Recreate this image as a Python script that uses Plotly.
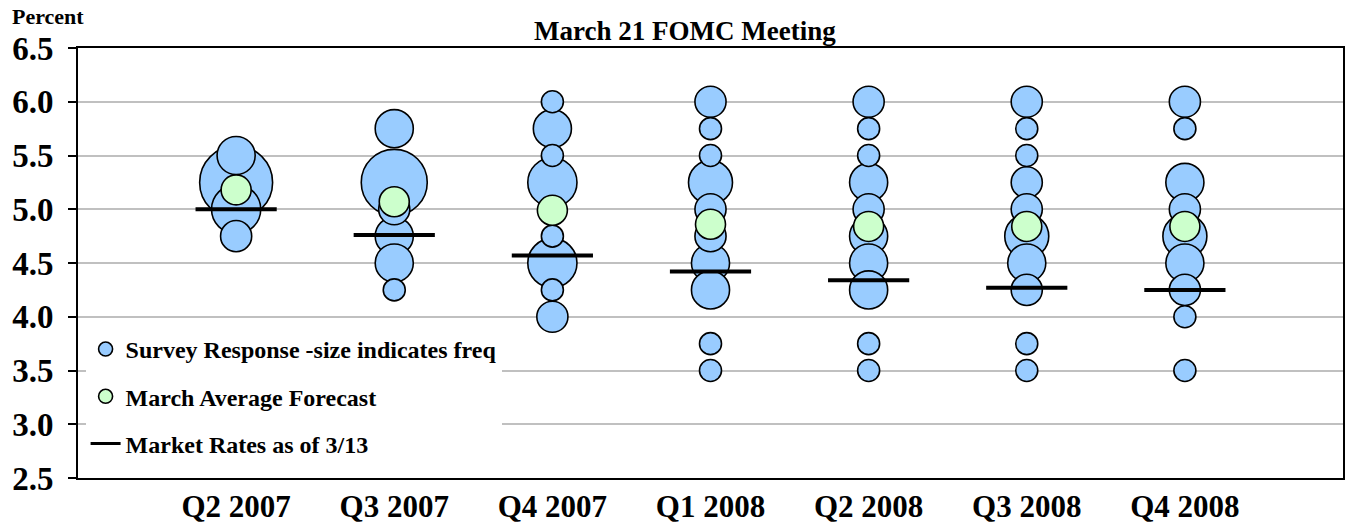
import numpy as np
import plotly.graph_objects as go

categories = ["Q2 2007", "Q3 2007", "Q4 2007", "Q1 2008", "Q2 2008", "Q3 2008", "Q4 2008"]

# survey responses (rate, number of respondents) per quarter
rates_q2_2007 = [5.50, 5.25, 5.00, 4.75]
freq_q2_2007 = [3, 11, 5, 2]
rates_q3_2007 = [5.75, 5.25, 5.00, 4.75, 4.50, 4.25]
freq_q3_2007 = [3, 9, 2, 3, 3, 1]
rates_q4_2007 = [6.00, 5.75, 5.50, 5.25, 4.75, 4.50, 4.25, 4.00]
freq_q4_2007 = [1, 3, 1, 5, 1, 5, 1, 2]
rates_q1_2008 = [6.00, 5.75, 5.50, 5.25, 5.00, 4.75, 4.50, 4.25, 3.75, 3.50]
freq_q1_2008 = [2, 1, 1, 4, 2, 2, 3, 3, 1, 1]
rates_q2_2008 = [6.00, 5.75, 5.50, 5.25, 5.00, 4.75, 4.50, 4.25, 3.75, 3.50]
freq_q2_2008 = [2, 1, 1, 3, 2, 3, 3, 3, 1, 1]
rates_q3_2008 = [6.00, 5.75, 5.50, 5.25, 5.00, 4.75, 4.50, 4.25, 3.75, 3.50]
freq_q3_2008 = [2, 1, 1, 2, 2, 4, 3, 2, 1, 1]
rates_q4_2008 = [6.00, 5.75, 5.25, 5.00, 4.75, 4.50, 4.25, 4.00, 3.50]
freq_q4_2008 = [2, 1, 3, 2, 4, 3, 2, 1, 1]

march_average = [5.18, 5.07, 4.99, 4.86, 4.84, 4.84, 4.84]
market_rates = [5.00, 4.76, 4.57, 4.42, 4.34, 4.27, 4.25]

y_ticks = [2.5, 3.0, 3.5, 4.0, 4.5, 5.0, 5.5, 6.0, 6.5]

survey_rates = [rates_q2_2007, rates_q3_2007, rates_q4_2007, rates_q1_2008,
                rates_q2_2008, rates_q3_2008, rates_q4_2008]
survey_freq = [freq_q2_2007, freq_q3_2007, freq_q4_2007, freq_q1_2008,
               freq_q2_2008, freq_q3_2008, freq_q4_2008]

# flatten, x positions are quarter index 1..7
xs, ys, fs = [], [], []
for i, (r, f) in enumerate(zip(survey_rates, survey_freq)):
    xs += [i + 1] * len(r)
    ys += r
    fs += f
order = np.argsort(-np.array(fs), kind="stable")  # big bubbles behind small ones
xs = np.array(xs)[order]
ys = np.array(ys)[order]
fs = np.array(fs)[order]

FONT = "Liberation Serif"
BLUE = "#99CCFF"
GREEN = "#CCFFCC"


def bold(size):
    return dict(family=FONT, size=size, color="black", weight="bold")


fig = go.Figure()

fig.add_trace(go.Scatter(
    x=xs, y=ys, mode="markers", showlegend=False,
    customdata=fs,
    marker=dict(size=22 * np.sqrt(fs), sizemode="diameter", color=BLUE,
                line=dict(color="black", width=1.6), opacity=1),
    hovertemplate="%{y:.2f}%: %{customdata}<extra></extra>",
))
qx = list(range(1, len(categories) + 1))
fig.add_trace(go.Scatter(
    x=qx, y=march_average, mode="markers", showlegend=False,
    marker=dict(size=30, color=GREEN, line=dict(color="black", width=1.6)),
))
fig.add_trace(go.Scatter(
    x=qx, y=market_rates, mode="markers", showlegend=False,
    marker=dict(symbol="line-ew", size=58, line=dict(color="black", width=4)),
))

# legend entries
fig.add_trace(go.Scatter(
    x=[None], y=[None], mode="markers", name="Survey Response -size indicates freq",
    legendgroup="a",
    marker=dict(size=14, color=BLUE, line=dict(color="black", width=1.6)),
))
fig.add_trace(go.Scatter(
    x=[None], y=[None], mode="markers", name="March Average Forecast",
    legendgroup="b",
    marker=dict(size=14, color=GREEN, line=dict(color="black", width=1.6)),
))
fig.add_trace(go.Scatter(
    x=[None], y=[None], mode="lines", name="Market Rates as of 3/13",
    legendgroup="c",
    line=dict(color="black", width=3),
))

fig.update_layout(
    width=1348, height=527,
    margin=dict(l=78, r=3, t=48, b=47),
    paper_bgcolor="white", plot_bgcolor="white",
    font=dict(family=FONT, color="black"),
    showlegend=True,
    legend=dict(
        x=0.006, y=0.028, xanchor="left", yanchor="bottom",
        bgcolor="white", borderwidth=0,
        font=bold(24),
        traceorder="grouped", tracegroupgap=13, itemwidth=30,
    ),
    xaxis=dict(
        range=[0, 8], tickmode="array", tickvals=qx, ticktext=categories,
        showgrid=False, zeroline=False, ticks="",
        showline=True, linecolor="black", linewidth=2, mirror=True,
        tickfont=bold(31),
        ticklabelstandoff=0,
    ),
    yaxis=dict(
        range=[2.5, 6.5], tickmode="array", tickvals=y_ticks,
        ticktext=[f"{v:.1f}" for v in y_ticks],
        showgrid=True, gridcolor="#C0C0C0", gridwidth=2, zeroline=False,
        ticks="outside", ticklen=8, tickwidth=2, tickcolor="black",
        showline=True, linecolor="black", linewidth=2, mirror=True,
        tickfont=bold(33),
        ticklabelstandoff=8,
    ),
    annotations=[
        dict(text="March 21 FOMC Meeting", xref="paper", yref="paper",
             x=0.48, y=1, yanchor="bottom", yshift=0, showarrow=False,
             font=bold(27)),
        dict(text="Percent", xref="paper", yref="paper",
             x=-0.0537, xanchor="left", y=1, yanchor="bottom", yshift=17,
             showarrow=False, font=bold(22)),
    ],
)

fig.write_html("out.html", config={"displayModeBar": False},
               post_script="document.body.style.margin='0';")
